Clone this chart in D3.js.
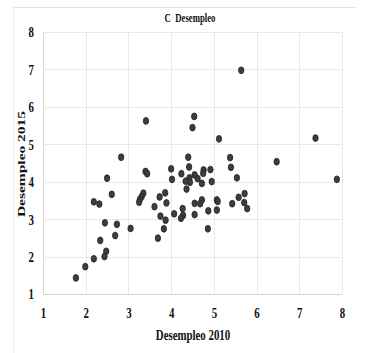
<!DOCTYPE html>
<html>
<head>
<meta charset="utf-8">
<script src="https://cdn.jsdelivr.net/npm/d3@7"></script>
<style>
  body { margin: 0; background: #fff; }
</style>
</head>
<body>
<div id="chart"></div>
<script>
// data
var desempleo2010 = [5.64, 3.41, 4.54, 4.50, 5.12, 7.38, 2.83, 4.40, 5.38, 6.47,
  3.40, 3.44, 4.00, 4.24, 4.42, 4.76, 4.75, 4.92, 5.40, 4.55,
  4.62, 4.43, 4.34, 4.44, 4.72, 4.95, 5.54, 7.88, 4.02, 2.50,
  4.36, 3.35, 3.31, 3.27, 3.25, 2.61, 3.86, 3.73, 3.89, 2.19,
  2.32, 3.61, 4.72, 4.68, 4.55, 5.07, 5.09, 5.58, 5.72, 5.43,
  5.71, 5.78, 5.07, 4.87, 4.27, 4.07, 4.28, 4.23, 4.55, 3.75,
  3.87, 3.83, 2.45, 2.73, 3.05, 2.69, 4.86, 3.69, 2.34, 2.48,
  2.44, 2.19, 1.99, 1.77];
var desempleo2015 = [6.97, 5.62, 5.74, 5.44, 5.14, 5.16, 4.65, 4.65, 4.64, 4.53,
  4.27, 4.21, 4.34, 4.21, 4.39, 4.31, 4.22, 4.32, 4.38, 4.18,
  4.08, 4.10, 4.01, 3.98, 3.95, 4.00, 4.10, 4.06, 4.06, 4.09,
  3.80, 3.69, 3.60, 3.53, 3.45, 3.66, 3.70, 3.59, 3.43, 3.46,
  3.40, 3.33, 3.51, 3.41, 3.42, 3.51, 3.47, 3.58, 3.68, 3.41,
  3.44, 3.28, 3.24, 3.22, 3.28, 3.14, 3.10, 3.02, 3.12, 3.08,
  2.97, 2.74, 2.90, 2.86, 2.75, 2.56, 2.74, 2.49, 2.43, 2.14,
  2.00, 1.94, 1.73, 1.43];

var xTicks = [1, 2, 3, 4, 5, 6, 7, 8];
var yTicks = [1, 2, 3, 4, 5, 6, 7, 8];

var chartTitle = 'C  Desempleo';
var xTitle = 'Desempleo 2010';
var yTitle = 'Desempleo 2015';

var chart_width = 373;
var chart_height = 353;
var squeeze = 0.7; // the picture is squashed sideways
var font = '"Liberation Serif", "Times New Roman", serif';

var dataset = desempleo2010.map(function(d, i) {
  return { x: d, y: desempleo2015[i] };
});

// scales
var x_scale = d3.scaleLinear().domain([1, 8]).range([43, 342]);
var y_scale = d3.scaleLinear().domain([1, 8]).range([294, 31.7]);

var svg = d3.select('#chart')
  .append('svg')
  .attr('width', chart_width)
  .attr('height', chart_height);

// faint chart frame (top and left edges)
svg.append('line')
  .attr('x1', 13).attr('x2', 356).attr('y1', 7.5).attr('y2', 7.5)
  .attr('stroke', '#e2e2e2');
svg.append('line')
  .attr('x1', 13.5).attr('x2', 13.5).attr('y1', 7).attr('y2', 353)
  .attr('stroke', '#ececec');

// grid
svg.append('g')
  .selectAll('line')
  .data(xTicks)
  .enter()
  .append('line')
  .attr('x1', d => Math.round(x_scale(d)) + 0.5)
  .attr('x2', d => Math.round(x_scale(d)) + 0.5)
  .attr('y1', y_scale(8))
  .attr('y2', y_scale(1))
  .attr('stroke', d => d === 1 ? '#d4d4d4' : '#e9e9e9');

svg.append('g')
  .selectAll('line')
  .data(yTicks)
  .enter()
  .append('line')
  .attr('x1', x_scale(1))
  .attr('x2', x_scale(8))
  .attr('y1', d => Math.round(y_scale(d)) + 0.5)
  .attr('y2', d => Math.round(y_scale(d)) + 0.5)
  .attr('stroke', d => d === 1 ? '#d4d4d4' : '#e9e9e9');

// axes (labels only)
var x_axis = d3.axisBottom(x_scale)
  .tickValues(xTicks)
  .tickSize(0)
  .tickPadding(13)
  .tickFormat(d3.format('d'));

var y_axis = d3.axisLeft(y_scale)
  .tickValues(yTicks)
  .tickSize(0)
  .tickPadding(13)
  .tickFormat(d3.format('d'));

function styleAxis(g) {
  g.select('.domain').remove();
  g.selectAll('text')
    .attr('font-family', font)
    .attr('font-size', '15.5px')
    .attr('font-weight', 'bold')
    .attr('fill', '#111')
    .attr('transform', 'scale(' + squeeze + ',1)');
}

svg.append('g')
  .attr('transform', 'translate(0,' + y_scale(1) + ')')
  .call(x_axis)
  .call(styleAxis);

svg.append('g')
  .attr('transform', 'translate(' + x_scale(1) + ',0)')
  .call(y_axis)
  .call(styleAxis);

// titles
svg.append('text')
  .attr('transform', 'translate(190,22) scale(' + squeeze + ',1)')
  .attr('text-anchor', 'middle')
  .attr('font-family', font)
  .attr('font-size', '12.5px')
  .attr('font-weight', 'bold')
  .attr('fill', '#111')
  .attr('xml:space', 'preserve')
  .style('white-space', 'pre')
  .text(chartTitle);

svg.append('text')
  .attr('transform', 'translate(193,340) scale(' + squeeze + ',1)')
  .attr('text-anchor', 'middle')
  .attr('font-family', font)
  .attr('font-size', '15.5px')
  .attr('font-weight', 'bold')
  .attr('fill', '#111')
  .text(xTitle);

svg.append('text')
  .attr('transform', 'translate(25,164) scale(' + squeeze + ',1) rotate(-90)')
  .attr('text-anchor', 'middle')
  .attr('font-family', font)
  .attr('font-size', '15.5px')
  .attr('font-weight', 'bold')
  .attr('fill', '#111')
  .text(yTitle);

// points
svg.append('g')
  .selectAll('ellipse')
  .data(dataset)
  .enter()
  .append('ellipse')
  .attr('cx', d => x_scale(d.x))
  .attr('cy', d => y_scale(d.y))
  .attr('rx', 2.7)
  .attr('ry', 3.4)
  .attr('fill', '#3d3d3d')
  .attr('stroke', '#222')
  .attr('stroke-width', 0.8);
</script>
</body>
</html>
